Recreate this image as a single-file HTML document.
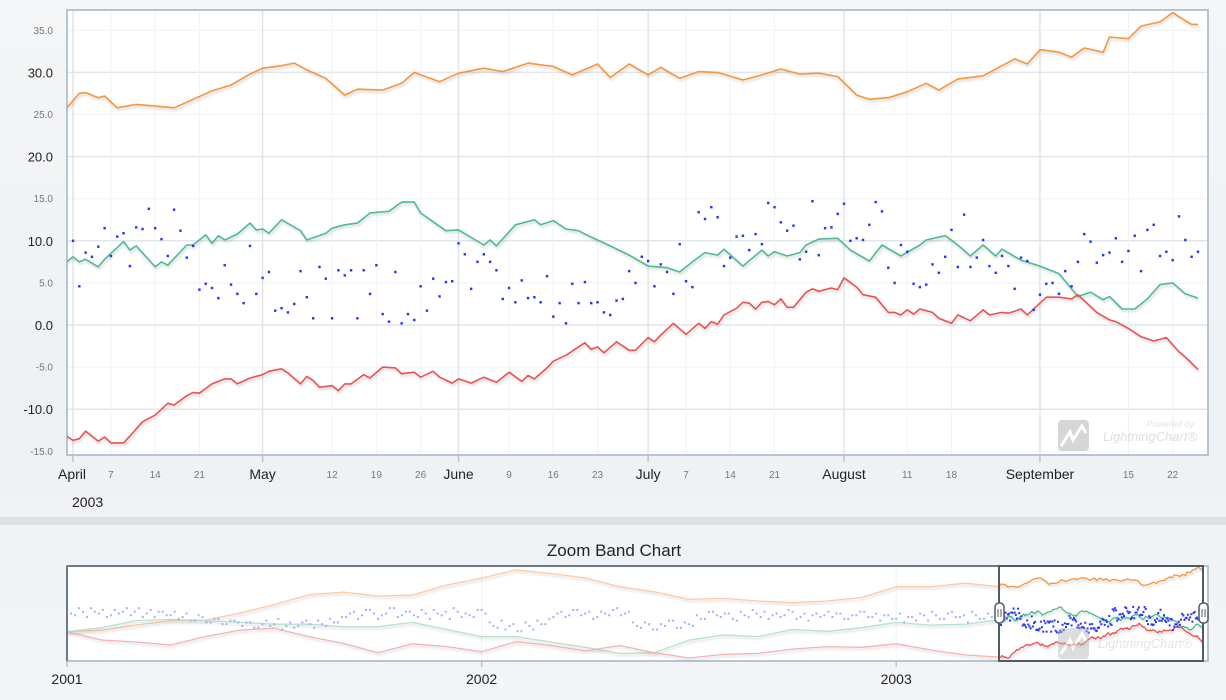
<!DOCTYPE html>
<html><head><meta charset="utf-8"><style>
html,body{margin:0;padding:0;}
body{width:1226px;height:700px;overflow:hidden;background:linear-gradient(180deg,#f4f6f8 0%,#eef1f4 60%,#f3f5f7 100%);font-family:"Liberation Sans",sans-serif;}
svg{display:block;}
</style></head><body>
<svg id="root" width="1226" height="700">
<defs>
<filter id="sh" x="-5%" y="-20%" width="110%" height="140%"><feDropShadow dx="1" dy="2" stdDeviation="1.2" flood-color="#000" flood-opacity="0.18"/></filter>
<clipPath id="mainClip"><rect x="67" y="11" width="1141" height="444"/></clipPath>
<clipPath id="selClip"><rect x="999" y="566" width="204" height="95"/></clipPath>
<clipPath id="bandClip"><rect x="67" y="566" width="1141" height="95"/></clipPath>
</defs>
<rect x="0" y="517" width="1226" height="8" fill="#dde2e7"/>
<rect x="67" y="10" width="1141" height="445" fill="#fff" stroke="#b7c4d1" stroke-width="2"/>
<g id="mainGrid"></g>
<g id="watermark1" opacity="0.55">
<rect x="1058" y="420" width="31" height="31" rx="4" fill="#b5b5b5"/>
<path d="M1061 446 L1070 432 L1073 440 L1082 426 L1086 433" stroke="#fff" stroke-width="3" fill="none"/>
<text x="1194" y="427" font-size="9" font-style="italic" fill="#cfcfcf" text-anchor="end">Powered by</text>
<text x="1197" y="441" font-size="13" font-style="italic" fill="#c4c4c4" text-anchor="end">LightningChart®</text>
</g>
<g id="mainSeries" clip-path="url(#mainClip)"></g>
<g id="mainAxes"></g>
<text x="614" y="556" font-size="17" fill="#222" text-anchor="middle">Zoom Band Chart</text>
<rect x="67" y="566" width="1141" height="95" fill="#fff" stroke="#b7c4d1" stroke-width="2"/>
<g id="bandGrid"></g>
<g id="bandSeries" clip-path="url(#bandClip)"></g>
<g id="watermark2" opacity="0.45">
<rect x="1058" y="628" width="31" height="31" rx="4" fill="#b5b5b5"/>
<path d="M1061 654 L1070 640 L1073 648 L1082 634 L1086 641" stroke="#fff" stroke-width="3" fill="none"/>
<text x="1192" y="648" font-size="13" font-style="italic" fill="#c4c4c4" text-anchor="end">LightningChart®</text>
</g>
<path d="M67 566 H999 M67 566 V661" stroke="#6d7a85" stroke-width="2" fill="none"/>
<rect x="999" y="566" width="204" height="95" fill="none" stroke="#4f5b66" stroke-width="2"/>
<g><rect x="995" y="603" width="9" height="20" rx="4" fill="#fff" stroke="#4f5b66" stroke-width="1.5"/><path d="M998 609 V617 M1001 609 V617" stroke="#4f5b66" stroke-width="1"/></g>
<g><rect x="1199" y="603" width="9" height="20" rx="4" fill="#fff" stroke="#4f5b66" stroke-width="1.5"/><path d="M1202 609 V617 M1205 609 V617" stroke="#4f5b66" stroke-width="1"/></g>
</svg>
<script>
// ---------- main chart data (days from 2003-04-01) ----------
const yTicks = [35, 30, 25, 20, 15, 10, 5, 0, -5, -10, -15];
const majorYTicks = [30, 20, 10, 0, -10];
const monthLabels = ["April", "May", "June", "July", "August", "September"];
const monthDays = [0, 30, 61, 91, 122, 153];
const weekLabels = ["7", "14", "21", "12", "19", "26", "9", "16", "23", "7", "14", "21", "11", "18", "15", "22"];
const weekDays = [6, 13, 20, 41, 48, 55, 69, 76, 83, 97, 104, 111, 132, 139, 167, 174];

const orangeDays = [-1,1,2,4,5,7,10,13,16,19,22,25,28,30,33,35,37,40,43,45,49,52,54,58,61,65,68,72,76,79,83,85,88,91,93,96,99,102,106,109,112,115,118,121,124,126,129,132,135,137,140,144,147,149,151,153,156,158,160,163,164,167,169,172,174,175,177,178];
const orangeVals = [25.8,27.5,27.6,27.0,27.2,25.8,26.2,26.0,25.8,26.8,27.8,28.5,29.8,30.5,30.8,31.1,30.3,29.3,27.3,28.0,27.9,28.7,30.0,28.9,29.9,30.5,30.1,31.1,30.7,29.7,31.0,29.4,31.0,29.7,30.6,29.3,30.1,30.0,29.1,29.7,30.4,29.8,29.9,29.5,27.3,26.8,27.0,27.7,28.7,27.9,29.2,29.6,30.8,31.6,31.0,32.7,32.4,31.8,32.9,32.4,34.2,34.0,35.5,36.0,37.1,36.6,35.7,35.7];

const greenDays = [-1,0,1,2,4,5,8,9,10,13,14,15,18,19,21,22,23,24,26,28,29,30,31,33,36,37,40,41,43,45,47,50,52,54,55,59,61,65,66,67,70,73,74,76,78,80,81,85,88,91,94,96,98,100,102,103,106,109,110,111,113,115,116,118,121,123,126,128,131,134,135,138,140,142,144,146,147,150,153,156,159,161,163,164,166,168,170,172,174,176,178];
const greenVals = [7.5,8.1,7.5,7.8,6.9,7.8,9.9,8.9,9.4,6.9,7.5,7.1,9.5,9.5,10.7,9.7,10.6,10.1,10.8,12.1,11.3,11.4,10.9,12.5,11.2,10.1,10.9,11.5,11.9,12.1,13.3,13.5,14.6,14.6,13.3,11.2,11.3,9.5,10.1,9.4,11.9,12.5,11.9,12.4,11.4,11.2,10.8,9.4,8.3,7.0,6.8,6.3,7.5,8.6,8.3,9.0,7.0,8.9,8.2,8.7,8.2,8.6,9.5,10.2,10.3,8.9,7.6,9.5,8.2,9.5,10.1,10.6,9.5,8.2,9.5,8.2,9.0,7.7,7.0,6.1,3.4,3.9,3.0,3.4,1.9,1.9,3.1,4.8,5.0,3.7,3.2];

const redDays = [-1,0,1,2,4,5,6,8,9,11,13,15,16,18,19,20,22,24,25,26,28,30,31,33,34,36,37,38,39,41,42,43,44,46,47,49,51,52,54,55,57,58,60,61,63,65,67,69,71,72,73,75,76,78,81,82,83,84,86,88,89,91,92,93,95,97,99,100,101,102,103,105,106,107,108,109,110,111,112,113,114,116,117,118,119,120,121,122,124,125,127,129,130,131,132,133,134,136,137,139,140,142,144,145,147,148,150,151,154,156,158,159,162,164,165,167,169,171,173,175,176,178];
const redVals = [-13.2,-13.7,-13.5,-12.6,-13.8,-13.3,-14.0,-14.0,-13.2,-11.5,-10.7,-9.3,-9.5,-8.4,-8.0,-8.1,-7.0,-6.4,-6.4,-7.0,-6.3,-5.9,-5.5,-5.2,-5.7,-7.0,-6.1,-6.6,-7.4,-7.2,-7.8,-7.0,-7.0,-5.9,-6.3,-5.0,-5.1,-5.8,-5.6,-6.2,-5.5,-6.2,-6.9,-6.4,-6.9,-6.2,-6.8,-5.6,-6.7,-6.0,-6.4,-5.1,-4.3,-3.6,-2.1,-2.9,-2.6,-3.3,-2.0,-3.0,-3.0,-1.5,-2.0,-1.2,0.2,-1.1,0.2,-0.4,0.4,0.1,1.2,2.0,2.7,2.6,1.9,2.7,2.8,2.4,3.1,2.1,2.1,3.9,4.3,4.0,4.2,4.4,4.2,5.6,4.5,3.6,3.3,1.5,1.5,1.2,1.8,1.3,1.9,1.5,0.8,0.2,1.2,0.5,1.8,1.2,1.5,1.4,1.9,1.2,3.3,3.3,3.1,3.6,1.5,0.6,0.4,-0.4,-1.4,-1.9,-1.5,-3.2,-3.8,-5.3];

// daily scatter, day 0..178
const blueVals = [10.0,4.6,8.6,8.1,9.3,11.5,8.2,10.5,10.9,7.0,11.6,11.4,13.8,11.5,10.2,8.2,13.7,11.2,8.0,9.4,4.2,4.9,4.4,3.2,7.1,4.8,3.7,2.6,9.4,3.7,5.6,6.3,1.7,2.0,1.5,2.5,6.4,3.3,0.8,6.9,5.5,0.8,6.5,5.9,6.5,0.8,6.5,3.7,7.1,1.3,0.4,6.3,0.2,1.3,0.6,4.6,1.7,5.5,3.4,5.1,5.2,9.7,8.4,4.3,7.5,8.4,7.5,6.5,3.1,4.4,2.7,5.3,3.2,3.3,2.7,5.8,1.0,2.6,0.2,4.9,2.6,5.1,2.6,2.7,1.5,1.2,2.9,3.1,6.4,5.0,8.1,7.6,4.6,7.2,6.3,3.7,9.6,5.2,4.5,13.4,12.6,14.0,12.8,7.0,8.0,10.5,10.6,8.9,10.8,9.6,14.5,14.0,12.2,11.2,11.8,7.8,8.7,14.7,8.3,11.5,11.6,13.2,14.4,10.0,10.3,10.1,11.9,14.6,13.5,6.8,5.0,9.5,8.7,4.9,4.5,4.8,7.2,6.2,8.1,11.3,6.9,13.1,6.9,8.0,10.1,7.0,6.2,8.2,7.0,4.3,8.0,7.6,1.8,3.6,4.9,5.0,3.7,6.4,4.6,7.5,10.8,9.9,7.4,8.3,8.6,10.3,7.5,8.8,10.6,6.4,11.3,11.9,8.2,8.7,7.7,12.9,10.1,8.1,8.7];

// ---------- zoom band overview (months from 2001-01) ----------
const bandYearLabels = ["2001", "2002", "2003"];
const bandYearMonths = [0, 12, 24];
const ovOrange = [0.8,1.7,4.5,7.0,7.3,11.2,16,21.5,23.0,20.8,21.4,27,30.9,35.5,33.5,31,26,23.2,19,19.5,18,17,18,20,26,26,28,26];
const ovGreen = [0.8,3,7,7.7,7,6,5,5,3.6,3.6,6,2,-2,-2,-5,-8,-11.5,-11,-4,-1,-2,2,1,3,6,4.5,5,7.5];
const ovRed = [0.8,-3.9,-5,-6.7,-2,1.7,2.7,-2,-5.8,-11,-6,-7.6,-10.5,-4.8,-7,-10,-7,-11,-14,-12,-11.4,-9,-7.6,-8,-6,-9.5,-12.3,-13.5];
const ovBlueWeekly = [13,10,12,14,11,9,13,12,10,14,11,9,12, 10,8,11,7,9,6,8,5,7, 4,6,3,7,5,2,6,4,7,3,5,8,6, 9,12,10,13,8,11,14,10,12,9,11,13,10,8,12,11,9,13, 6,3,2,5,1,4,7,5, 9,12,10,13,11,8,12,10,14,11, 6,3,5,2,4,7,3,5, 10,8,12,9,11,7,10,13,9,8,11,10,12,9,7,11,10, 9,11,8,10,12,9,7,10,8, 6,9,11,7,10,8,12,9,6,10,8,9];
const ovBlueWeeklyB = [11,14,9,12,13,10,11,14,12,9,13,12,10, 12,9,7,10,6,8,5,7,6, 6,3,5,4,8,4,3,6,5,7,4,6,9, 11,8,13,11,10,14,9,12,10,13,8,11,12,14,9,10,13,11, 4,7,4,1,6,2,5,8, 11,9,13,10,12,9,11,13,10,12, 4,6,2,5,7,3,6,4, 8,12,10,11,8,12,9,11,12,10,9,13,8,11,10,9,12, 11,8,10,12,9,11,10,8,11, 9,7,10,12,8,11,9,10,12,8,11,10];

// ---------- scales ----------
const NS = "http://www.w3.org/2000/svg";
const X0 = 73, PXD = 6.32;
const xDay = d => X0 + d * PXD;
const yMain = v => 325 - v * 8.42;
const bandX0 = 67, PXM = 34.55;
const xMonth = m => bandX0 + m * PXM;
const xBandDay = d => xMonth(27) + d * (204 / 179);
const yBand = v => 658 - (v + 14) * 1.78;

function mk(tag, attrs, parent) {
  const e = document.createElementNS(NS, tag);
  for (const k in attrs) e.setAttribute(k, attrs[k]);
  parent.appendChild(e);
  return e;
}
const grid = document.getElementById('mainGrid');
const axes = document.getElementById('mainAxes');
const ser = document.getElementById('mainSeries');

yTicks.forEach(v => {
  const major = majorYTicks.includes(v);
  const l = mk('line', {x1: 68, x2: 1207, y1: yMain(v), y2: yMain(v), stroke: major ? '#e1e6ec' : '#f0f2f5', 'stroke-width': major ? 1.5 : 1}, grid);
  
  
  const t = mk('text', {x: 53, y: yMain(v) + (major ? 5 : 3.5), 'text-anchor': 'end', 'font-size': major ? 13 : 10, fill: major ? '#222' : '#777'}, axes);
  t.textContent = v.toFixed(1);
  
  
});
weekDays.forEach((d, i) => {
  const l = mk('line', {x1: xDay(d), x2: xDay(d), y1: 11, y2: 454, stroke: '#f0f2f5', 'stroke-width': 1}, grid);
  
  
  const t = mk('text', {x: xDay(d), y: 478, 'text-anchor': 'middle', 'font-size': 10, fill: '#777'}, axes);
  t.textContent = weekLabels[i];
  
  
});
monthDays.forEach((d, i) => {
  const l = mk('line', {x1: xDay(d), x2: xDay(d), y1: 11, y2: 454, stroke: '#dfe4ea', 'stroke-width': 1.5}, grid);
  
  
  const tk = mk('line', {x1: xDay(d), x2: xDay(d), y1: 455, y2: 462, stroke: '#b7c4d1', 'stroke-width': 1.5}, axes);
  
  
  const t = mk('text', {x: i === 0 ? xDay(d) - 15 : xDay(d), y: 479, 'text-anchor': i === 0 ? 'start' : 'middle', 'font-size': 14, fill: '#222'}, axes);
  t.textContent = monthLabels[i];
  
  
});
const yr = mk('text', {x: 72, y: 507, 'font-size': 14, fill: '#222'}, axes);
yr.textContent = '2003';



function linePath(days, vals, fx, fy) {
  return days.map((d, i) => (i ? 'L' : 'M') + fx(d).toFixed(1) + ' ' + fy(vals[i]).toFixed(1)).join(' ');
}
function drawLine(parent, days, vals, fx, fy, color, name, w, op) {
  const p = mk('path', {d: linePath(days, vals, fx, fy), stroke: color, 'stroke-width': w, fill: 'none', 'stroke-linejoin': 'round', opacity: op, filter: 'url(#sh)'}, parent);
  
  
}
drawLine(ser, orangeDays, orangeVals, xDay, yMain, '#f7953b', 'orange-series-line', 1.6, 1);
drawLine(ser, greenDays, greenVals, xDay, yMain, '#4dbb91', 'green-series-line', 1.6, 1);
drawLine(ser, redDays, redVals, xDay, yMain, '#ec5151', 'red-series-line', 1.6, 1);
blueVals.forEach((v, i) => {
  const c = mk('rect', {x: xDay(i) - 1.2, y: yMain(v) - 1.2, width: 2.4, height: 2.4, fill: '#2435ff', filter: 'url(#sh)'}, ser);
  
  
});

// ---------- band ----------
const bg = document.getElementById('bandGrid');
const bs = document.getElementById('bandSeries');
bandYearMonths.forEach((m, i) => {
  const l = mk('line', {x1: xMonth(m), x2: xMonth(m), y1: 567, y2: 660, stroke: '#eef1f4', 'stroke-width': 1}, bg);
  
  
  const tk = mk('line', {x1: xMonth(m), x2: xMonth(m), y1: 661, y2: 667, stroke: '#b7c4d1', 'stroke-width': 1.5}, bg);
  
  
  const t = mk('text', {x: xMonth(m), y: 684, 'text-anchor': 'middle', 'font-size': 14, fill: '#222'}, bg);
  t.textContent = bandYearLabels[i];
  
  
});
const monthIdx = ovOrange.map((_, i) => i);
const faded = mk('g', {}, bs);


drawLine(faded, monthIdx, ovOrange, xMonth, yBand, '#ffc497', 'band-orange-overview', 1.3, 0.9);
drawLine(faded, monthIdx, ovGreen, xMonth, yBand, '#addfc8', 'band-green-overview', 1.3, 0.9);
drawLine(faded, monthIdx, ovRed, xMonth, yBand, '#f6aaaa', 'band-red-overview', 1.3, 0.9);
ovBlueWeekly.forEach((v, i) => {
  const c = mk('rect', {x: xMonth(i * 12 / 52) - 1, y: yBand(v) - 1, width: 2, height: 2, fill: '#a3afff'}, faded);
  
  
});
ovBlueWeeklyB.forEach((v, i) => {
  const c = mk('rect', {x: xMonth((i + 0.5) * 12 / 52) - 1, y: yBand(v) - 1, width: 2, height: 2, fill: '#a3afff'}, faded);
  
  
});
const sel = mk('g', {'clip-path': 'url(#selClip)'}, bs);


drawLine(sel, orangeDays, orangeVals, xBandDay, yBand, '#f7953b', 'band-orange-selected', 1.3, 1);
drawLine(sel, greenDays, greenVals, xBandDay, yBand, '#4dbb91', 'band-green-selected', 1.3, 1);
drawLine(sel, redDays, redVals, xBandDay, yBand, '#ec5151', 'band-red-selected', 1.3, 1);
blueVals.forEach((v, i) => {
  const c = mk('rect', {x: xBandDay(i) - 1, y: yBand(v) - 1, width: 2, height: 2, fill: '#2435ff'}, sel);
  
  
});
</script>
</body></html>
